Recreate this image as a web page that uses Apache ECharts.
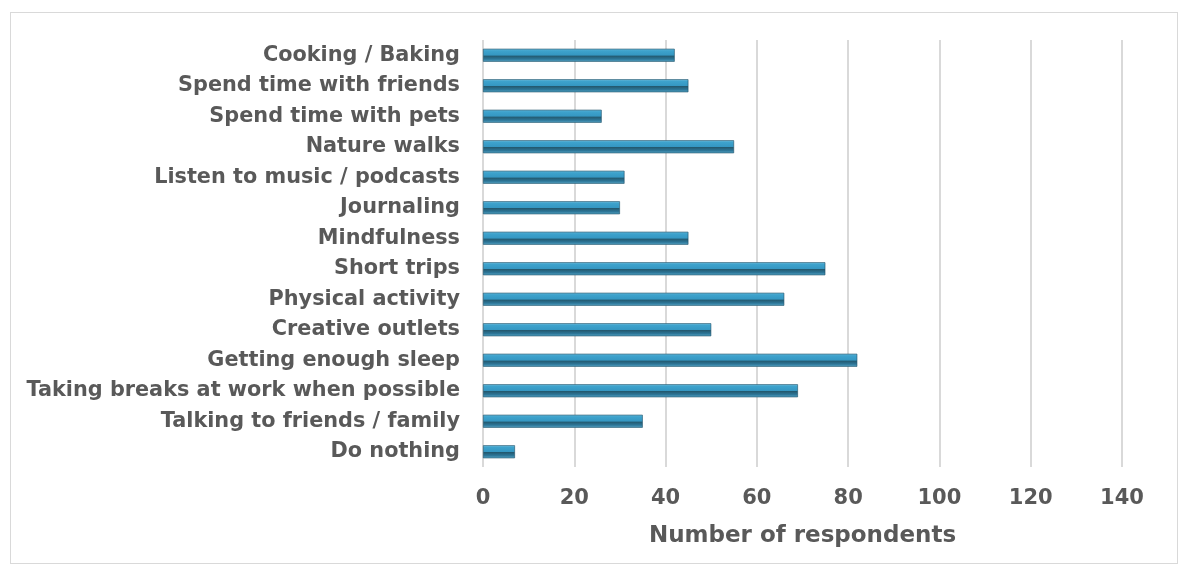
<!DOCTYPE html>
<html><head><meta charset="utf-8">
<script src="https://cdn.jsdelivr.net/npm/echarts@6/dist/echarts.min.js"></script>
<style>html,body{margin:0;padding:0;background:#fff}#c{width:1190px;height:575px}
#frame{position:absolute;left:10px;top:12px;width:1168px;height:552px;border:1px solid #d9d9d9;box-sizing:border-box;pointer-events:none}</style>
</head><body><div id="c"></div><div id="frame"></div>
<script>
const categories = ["Cooking / Baking","Spend time with friends","Spend time with pets","Nature walks","Listen to music / podcasts","Journaling","Mindfulness","Short trips","Physical activity","Creative outlets","Getting enough sleep","Taking breaks at work when possible","Talking to friends / family","Do nothing"];
const values = [42,45,26,55,31,30,45,75,66,50,82,69,35,7];
const xTicks = [0,20,40,60,80,100,120,140];
const xTitle = "Number of respondents";

const chart = echarts.init(document.getElementById('c'));
const font = '"DejaVu Sans", sans-serif';
chart.setOption({
  animation:false,
  grid:{left:483,right:68,top:40,bottom:108,containLabel:false},
  xAxis:{type:'value',min:xTicks[0],max:xTicks[xTicks.length-1],interval:20,
    name:xTitle,nameLocation:'middle',nameGap:58,
    nameTextStyle:{color:'#595959',fontSize:23,fontWeight:'bold',fontFamily:font},
    axisLine:{show:false},axisTick:{show:false},
    axisLabel:{color:'#595959',fontSize:21,fontWeight:'bold',fontFamily:font,margin:21},
    splitLine:{show:true,lineStyle:{color:'#d9d9d9',width:2}}},
  yAxis:{type:'category',data:categories,inverse:true,
    axisLine:{show:false},axisTick:{show:false},
    axisLabel:{color:'#595959',fontSize:20.8,fontWeight:'bold',fontFamily:font,margin:23}},
  series:[{type:'bar',data:values,barWidth:13,
    itemStyle:{borderColor:'#1d4f66',borderWidth:0.6,
      color:new echarts.graphic.LinearGradient(0,0,0,1,[
        {offset:0,color:'#7cc3df'},{offset:0.15,color:'#3ea3cd'},{offset:0.5,color:'#3597c2'},
        {offset:0.55,color:'#23596f'},{offset:0.8,color:'#2d7799'},{offset:1,color:'#5aa9c9'}])}}]
});
</script></body></html>
